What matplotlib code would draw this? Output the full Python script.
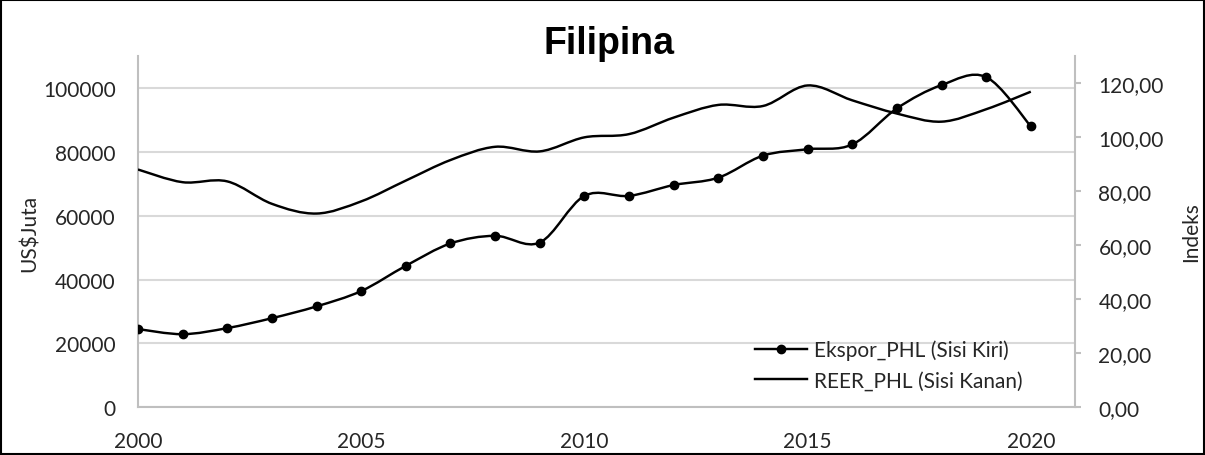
import numpy as np
import matplotlib.pyplot as plt
from matplotlib.path import Path
from matplotlib.patches import PathPatch, Rectangle
from matplotlib.lines import Line2D
from matplotlib.ticker import FuncFormatter

# ---------------------------
# Data
# ---------------------------
tahun = list(range(2000, 2021))
ekspor_phl = [24500, 22900, 24800, 27900, 31600, 36400, 44300, 51300, 53700, 51600,
              66200, 66200, 69600, 71900, 78800, 80800, 82300, 93600, 100900, 103400, 88000]
reer_phl = [88.0, 83.3, 83.6, 75.3, 71.7, 76.2, 83.9, 91.5, 96.4, 94.7,
            99.9, 101.1, 107.2, 111.9, 111.5, 119.1, 113.6, 108.7, 105.7, 110.3, 116.8]

judul = "Filipina"
label_kiri = "US$Juta"
label_kanan = "Indeks"
nama_ekspor = "Ekspor_PHL (Sisi Kiri)"
nama_reer = "REER_PHL (Sisi Kanan)"

FONT = "Lato"
GRIS = "#d9d9d9"
GRIS_EJE = "#bfbfbf"
TEXTO = "#262626"


# ---------------------------
# Smooth line (Excel-like bezier)
# ---------------------------
def smooth_path(x, y):
    x = np.asarray(x, float)
    y = np.asarray(y, float)
    n = len(x)
    verts = [(x[0], y[0])]
    codes = [Path.MOVETO]
    for i in range(n - 1):
        i0 = max(i - 1, 0)
        i3 = min(i + 2, n - 1)
        c1 = (x[i] + (x[i + 1] - x[i0]) / 6, y[i] + (y[i + 1] - y[i0]) / 6)
        c2 = (x[i + 1] - (x[i3] - x[i]) / 6, y[i + 1] - (y[i3] - y[i]) / 6)
        verts += [c1, c2, (x[i + 1], y[i + 1])]
        codes += [Path.CURVE4] * 3
    return Path(verts, codes)


# ---------------------------
# Figure
# ---------------------------
fig = plt.figure(figsize=(12.05, 4.56), dpi=100)
ax = fig.add_axes([0.1145, 0.1046, 0.778, 0.7704])
ax2 = ax.twinx()

ax.set_xlim(2000, 2021)
ax.set_ylim(0, 110000)
ax2.set_ylim(0, 130)

ax.set_yticks(np.arange(0, 100001, 20000))
ax2.set_yticks(np.arange(0, 121, 20))
ax2.yaxis.set_major_formatter(FuncFormatter(lambda v, p: f"{v:.2f}".replace(".", ",")))
ax.set_xticks([2000, 2005, 2010, 2015, 2020])

ax.grid(axis="y", color=GRIS, lw=1.5)
ax.set_axisbelow(True)

for a in (ax, ax2):
    for s in a.spines.values():
        s.set_visible(False)
for a, lado in ((ax, "left"), (ax, "bottom"), (ax2, "right")):
    a.spines[lado].set_visible(True)
    a.spines[lado].set_color(GRIS_EJE)
    a.spines[lado].set_linewidth(1.5)

ax.tick_params(axis="y", length=0, pad=16, labelsize=15, labelcolor=TEXTO)
ax.tick_params(axis="x", length=0, pad=17, labelsize=15, labelcolor=TEXTO)
ax2.tick_params(axis="y", length=4.5, width=1.5, color=GRIS_EJE, pad=12, labelsize=15,
                labelcolor=TEXTO)
for lbl in ax.get_xticklabels() + ax.get_yticklabels() + ax2.get_yticklabels():
    lbl.set_fontfamily(FONT)

# lines
ax.add_patch(PathPatch(smooth_path(tahun, ekspor_phl), fill=False, ec="black", lw=1.75,
                       transform=ax.transData, zorder=3))
ax.plot(tahun, ekspor_phl, "o", color="black", ms=6, zorder=4)
ax2.add_patch(PathPatch(smooth_path(tahun, reer_phl), fill=False, ec="black", lw=1.75,
                        transform=ax2.transData, zorder=3))

fig.text(29.5 / 1205, 1 - 233 / 456, label_kiri, rotation=90, ha="center", va="center",
         fontfamily=FONT, fontsize=15, color=TEXTO)
fig.text(1191 / 1205, 1 - 232 / 456, label_kanan, rotation=90, ha="center", va="center",
         fontfamily=FONT, fontsize=15, color=TEXTO)

fig.text(608.5 / 1205, 1 - 44 / 456, judul, ha="center", va="center",
         fontfamily="Liberation Sans", fontweight="bold", fontsize=27)

handles = [Line2D([], [], color="black", lw=1.75, marker="o", ms=6),
           Line2D([], [], color="black", lw=1.75)]
leg = ax2.legend(handles, [nama_ekspor, nama_reer], loc="center left",
                 bbox_to_anchor=((745 - 138) / 937.5, (408.3 - 366) / 351.3),
                 frameon=False, handlelength=2.5, handletextpad=0.3, labelspacing=0.5,
                 borderpad=0, prop={"family": FONT, "size": 15})
for t in leg.get_texts():
    t.set_color(TEXTO)

fig.patches.append(Rectangle((0.001, 0.002), 0.998, 0.995, transform=fig.transFigure,
                             fill=False, ec="black", lw=1.5))

fig.savefig("out.png", dpi=100)
